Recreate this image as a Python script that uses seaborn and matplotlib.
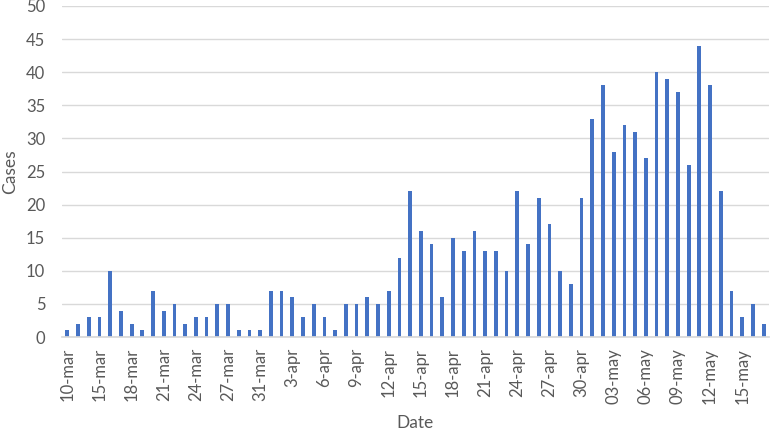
import matplotlib
matplotlib.use("Agg")
import matplotlib.pyplot as plt
import seaborn as sns

# daily cases, one bar per reported day
cases = [1, 2, 3, 3, 10, 4, 2, 1, 7, 4, 5, 2, 3, 3, 5, 5, 1, 1, 1, 7, 7, 6,
         3, 5, 3, 1, 5, 5, 6, 5, 7, 12, 22, 16, 14, 6, 15, 13, 16, 13, 13, 10,
         22, 14, 21, 17, 10, 8, 21, 33, 38, 28, 32, 31, 27, 40, 39, 37, 26, 44,
         38, 22, 7, 3, 5, 2]

# labels shown on every third bar
tick_labels = ['10-mar', '15-mar', '18-mar', '21-mar', '24-mar', '27-mar', '31-mar',
               '3-apr', '6-apr', '9-apr', '12-apr', '15-apr', '18-apr', '21-apr',
               '24-apr', '27-apr', '30-apr', '03-may', '06-may', '09-may',
               '12-may', '15-may']

sns.set_theme(style="white")
plt.rcParams['font.family'] = ['Lato', 'DejaVu Sans']

fig = plt.figure(figsize=(7.7, 4.33), dpi=100)
ax = fig.add_axes([62 / 770, 96 / 433, 707 / 770, 331 / 433])

sns.barplot(x=list(range(len(cases))), y=cases, color='#4472C4', width=0.35,
            saturation=1, linewidth=0, ax=ax)

ax.set_ylim(0, 50)
ax.set_yticks(range(0, 51, 5))
ax.set_xlim(-0.5, len(cases) - 0.5)
ax.set_xticks(range(0, len(cases), 3))
ax.set_xticklabels(tick_labels, rotation=90)

ax.yaxis.grid(True, color='#D9D9D9', linewidth=1)
ax.set_axisbelow(True)
for s in ['top', 'right', 'left']:
    ax.spines[s].set_visible(False)
ax.spines['bottom'].set_color('#D9D9D9')
ax.tick_params(axis='both', length=0, labelsize=12, colors='#595959')
ax.tick_params(axis='y', pad=12)
ax.tick_params(axis='x', pad=8)

ax.set_xlabel('Date', fontsize=12.5, color='#595959', labelpad=8)
ax.set_ylabel('Cases', fontsize=12.5, color='#595959', labelpad=6)

fig.savefig('out.png', dpi=100)
